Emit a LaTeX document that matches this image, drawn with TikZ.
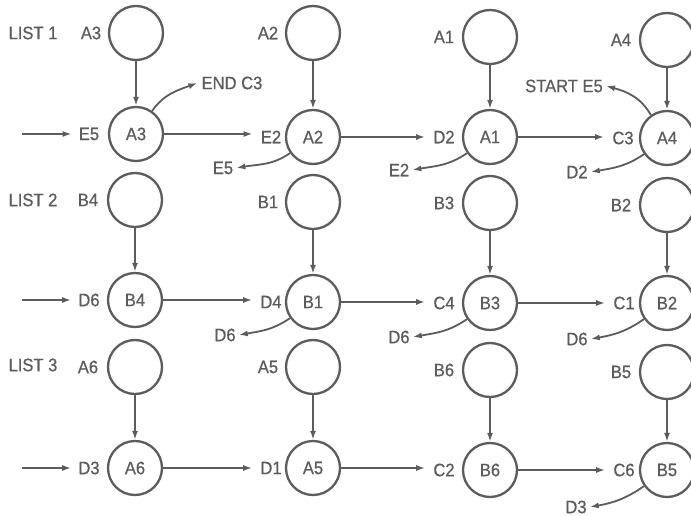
\documentclass[tikz,border=0pt]{standalone}
\usepackage{fontspec}
\setmainfont{Liberation Sans}[FakeStretch=0.92,FakeBold=0.6]
\usetikzlibrary{arrows.meta}
\definecolor{ink}{HTML}{5C5C5C}
\begin{document}
\begin{tikzpicture}[x=1pt,y=-1pt,
  every node/.style={text=ink,font=\fontsize{18}{20}\selectfont},
  ring/.style={draw=ink,line width=2.3pt,circle,minimum size=54pt,inner sep=0pt},
  lbl/.style={inner sep=0pt},
  arr/.style={draw=ink,line width=1.8pt,-{Latex[length=9pt,width=6pt]}}]
\useasboundingbox (0,0) rectangle (691,516);
\fill[white] (0,0) rectangle (691,516);
% ---------- nodes: row 1
\node[lbl] (L1) at (33,33) {LIST 1};
\node[ring] (A3t) at (136,33) {};
\node[ring] (A2t) at (313,33) {};
\node[ring] (A1t) at (490,37) {};
\node[ring] (A4t) at (667,40) {};
\node[lbl] (lA3t) at (91,33) {A3};
\node[lbl] (lA2t) at (268,33) {A2};
\node[lbl] (lA1t) at (444,37) {A1};
\node[lbl] (lA4t) at (621,40) {A4};
\node[ring] (A3b) at (136,134) {A3};
\node[ring] (A2b) at (313,137) {A2};
\node[ring] (A1b) at (490,137) {A1};
\node[ring] (A4b) at (667,138) {A4};
\node[lbl] (E5a) at (89,134) {E5};
\node[lbl] (E2a) at (271,137) {E2};
\node[lbl] (D2a) at (444,137) {D2};
\node[lbl] (C3a) at (623,138) {C3};
\node[lbl] (END) at (232,83) {END C3};
\node[lbl] (E5b) at (223,168) {E5};
\node[lbl] (E2b) at (399,170) {E2};
\node[lbl] (START) at (564,86) {START E5};
\node[lbl] (D2b) at (577,172) {D2};
\coordinate (in1) at (22,134);
% ---------- row 2
\node[lbl] (L2) at (33,200) {LIST 2};
\node[ring] (B4t) at (135,200) {};
\node[ring] (B1t) at (313,202) {};
\node[ring] (B3t) at (490,203) {};
\node[ring] (B2t) at (667,205) {};
\node[lbl] (lB4t) at (88,200) {B4};
\node[lbl] (lB1t) at (268,202) {B1};
\node[lbl] (lB3t) at (444,203) {B3};
\node[lbl] (lB2t) at (621,205) {B2};
\node[ring] (B4b) at (135,300) {B4};
\node[ring] (B1b) at (313,302) {B1};
\node[ring] (B3b) at (490,303) {B3};
\node[ring] (B2b) at (667,303) {B2};
\node[lbl] (D6a) at (89,300) {D6};
\node[lbl] (D4a) at (271,302) {D4};
\node[lbl] (C4a) at (444,303) {C4};
\node[lbl] (C1a) at (624,303) {C1};
\node[lbl] (D6b) at (225,335) {D6};
\node[lbl] (D6c) at (399,337) {D6};
\node[lbl] (D6d) at (577,339) {D6};
\coordinate (in2) at (22,300);
% ---------- row 3
\node[lbl] (L3) at (33,365) {LIST 3};
\node[ring] (A6t) at (135,367) {};
\node[ring] (A5t) at (313,367) {};
\node[ring] (B6t) at (490,370) {};
\node[ring] (B5t) at (667,372) {};
\node[lbl] (lA6t) at (88,367) {A6};
\node[lbl] (lA5t) at (268,367) {A5};
\node[lbl] (lB6t) at (444,370) {B6};
\node[lbl] (lB5t) at (621,372) {B5};
\node[ring] (A6b) at (135,468) {A6};
\node[ring] (A5b) at (313,468) {A5};
\node[ring] (B6b) at (490,470) {B6};
\node[ring] (B5b) at (667,470) {B5};
\node[lbl] (D3a) at (89,468) {D3};
\node[lbl] (D1a) at (271,468) {D1};
\node[lbl] (C2a) at (444,470) {C2};
\node[lbl] (C6a) at (624,470) {C6};
\node[lbl] (D3b) at (576,507) {D3};
\coordinate (in3) at (22,468);
% ---------- connectors: vertical
\foreach \t/\b in {A3t/A3b,A2t/A2b,A1t/A1b,A4t/A4b,B4t/B4b,B1t/B1b,B3t/B3b,B2t/B2b,A6t/A6b,A5t/A5b,B6t/B6b,B5t/B5b}
  \draw[arr] (\t.south) -- (\b.north);
% horizontal
\draw[arr] (in1) -- ([xshift=-7pt]E5a.west |- in1);
\draw[arr] (A3b.east) -- ([xshift=-8pt]E2a.west |- A3b.east);
\draw[arr] (A2b.east) -- ([xshift=-8pt]D2a.west |- A2b.east);
\draw[arr] (A1b.east) -- ([xshift=-8pt]C3a.west |- A1b.east);
\draw[arr] (in2) -- ([xshift=-7pt]D6a.west |- in2);
\draw[arr] (B4b.east) -- ([xshift=-8pt]D4a.west |- B4b.east);
\draw[arr] (B1b.east) -- ([xshift=-8pt]C4a.west |- B1b.east);
\draw[arr] (B3b.east) -- ([xshift=-8pt]C1a.west |- B3b.east);
\draw[arr] (in3) -- ([xshift=-7pt]D3a.west |- in3);
\draw[arr] (A6b.east) -- ([xshift=-8pt]D1a.west |- A6b.east);
\draw[arr] (A5b.east) -- ([xshift=-8pt]C2a.west |- A5b.east);
\draw[arr] (B6b.east) -- ([xshift=-8pt]C6a.west |- B6b.east);
% curved
\draw[arr] (A3b.55) to[out=55,in=200] ([xshift=-4pt]END.west);
\draw[arr] (A2b.215) to[out=215,in=10] ([xshift=3pt]E5b.east);
\draw[arr] (A1b.215) to[out=215,in=10] ([xshift=3pt]E2b.east);
\draw[arr] (A4b.125) to[out=120,in=-15] ([xshift=3pt]START.east);
\draw[arr] (A4b.215) to[out=215,in=10] ([xshift=3pt]D2b.east);
\draw[arr] (B1b.215) to[out=215,in=10] ([xshift=3pt]D6b.east);
\draw[arr] (B3b.215) to[out=215,in=10] ([xshift=3pt]D6c.east);
\draw[arr] (B2b.215) to[out=215,in=10] ([xshift=3pt]D6d.east);
\draw[arr] (B5b.215) to[out=215,in=10] ([xshift=3pt]D3b.east);
\end{tikzpicture}
\end{document}
